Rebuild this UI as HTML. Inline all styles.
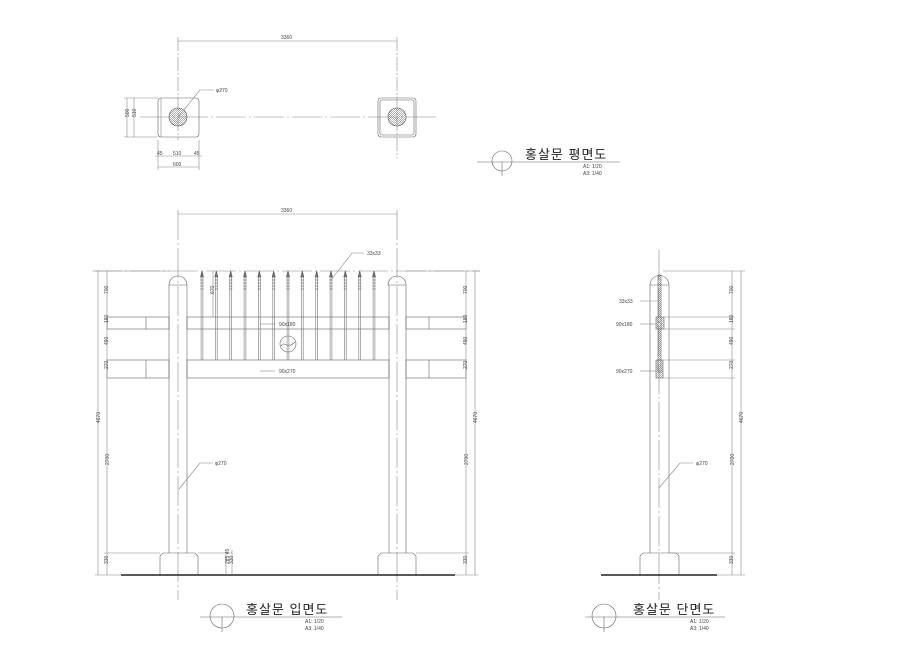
<!DOCTYPE html>
<html><head><meta charset="utf-8"><style>
html,body{margin:0;padding:0;background:#fff;}
svg{display:block}
text{font-family:"Liberation Sans","Noto Sans CJK KR",sans-serif;fill:#444}
.t{font-size:5px}
.k{font-size:13px;fill:#222;letter-spacing:1px}
</style></head><body>
<svg width="920" height="650" viewBox="0 0 920 650" xmlns="http://www.w3.org/2000/svg">
<defs>
<g id="pk">
<line x1="-0.9" y1="276" x2="-0.9" y2="360" stroke="#777" stroke-width="0.6"/>
<line x1="0.9" y1="276" x2="0.9" y2="360" stroke="#777" stroke-width="0.6"/>
<path d="M0,271 L-1.5,277 L1.5,277 Z M-1.6,280 L1.6,280 M-1.6,283 L1.6,283 M-1.6,286 L1.6,286 M-1.6,289 L1.6,289" stroke="#555" stroke-width="0.6" fill="#777"/>
</g>
<pattern id="h" width="2" height="2" patternUnits="userSpaceOnUse"><path d="M0,2 L2,0" stroke="#666" stroke-width="0.5"/></pattern>
</defs>
<g fill="none" stroke="#888" stroke-width="0.6">
<line x1="178" y1="41" x2="397" y2="41"/>
<line x1="178" y1="37" x2="178" y2="140" stroke-dasharray="14,2,2,2"/>
<line x1="397" y1="37" x2="397" y2="158" stroke-dasharray="14,2,2,2"/>
<line x1="140" y1="117" x2="438" y2="117" stroke-dasharray="30,3,2,3"/>
<rect x="158" y="98" width="41" height="39" rx="3" stroke="#666"/>
<line x1="161" y1="98" x2="161" y2="137"/>
<rect x="378" y="98" width="38" height="39" rx="3" stroke="#666"/>
<rect x="380" y="100" width="34" height="35" rx="2" stroke="#666"/>
<circle cx="178" cy="117" r="9" fill="url(#h)" stroke="#555"/>
<circle cx="397" cy="117" r="9" fill="url(#h)" stroke="#555"/>
<polyline points="178,117 200,90 214,90"/>
<line x1="127" y1="98" x2="127" y2="137"/><line x1="134" y1="98" x2="134" y2="137"/>
<line x1="124" y1="98" x2="158" y2="98"/><line x1="124" y1="137" x2="158" y2="137"/>
<line x1="158" y1="140" x2="158" y2="170"/><line x1="199" y1="140" x2="199" y2="170"/>
<line x1="155" y1="156" x2="202" y2="156"/><line x1="158" y1="167" x2="199" y2="167"/>
<circle cx="502" cy="161" r="10" stroke="#666"/>
<line x1="477" y1="162" x2="620" y2="162" stroke="#666"/>
<line x1="502" y1="162" x2="502" y2="176" stroke="#666"/>

<line x1="178" y1="214" x2="397" y2="214"/>
<line x1="178" y1="210" x2="178" y2="600" stroke-dasharray="30,3,2,3"/>
<line x1="397" y1="210" x2="397" y2="600" stroke-dasharray="30,3,2,3"/>
<line x1="92" y1="271" x2="480" y2="271" stroke-dasharray="30,3,2,3"/>
<g stroke="#666">
<path d="M169,285 A9,9 0 1 1 187,285 Z"/>
<path d="M388,285 A9,9 0 1 1 406,285 Z"/>
<line x1="169" y1="285" x2="169" y2="553"/><line x1="187" y1="285" x2="187" y2="553"/>
<line x1="389" y1="285" x2="389" y2="553"/><line x1="406" y1="285" x2="406" y2="553"/>
<rect x="187" y="317" width="202" height="12"/>
<rect x="187" y="360" width="202" height="18"/>
<rect x="107" y="317" width="62" height="12"/><line x1="146" y1="317" x2="146" y2="329"/>
<rect x="107" y="360" width="62" height="18"/><line x1="146" y1="360" x2="146" y2="378"/>
<rect x="406" y="317" width="60" height="12"/><line x1="429" y1="317" x2="429" y2="329"/>
<rect x="406" y="360" width="60" height="18"/><line x1="429" y1="360" x2="429" y2="378"/>
<circle cx="288" cy="344" r="8"/>
<path d="M281,346 C284,340 287,350 295,342"/>
<path d="M160,575 L160,556 L163,553 L195,553 L198,556 L198,575"/>
<path d="M378,575 L378,556 L381,553 L413,553 L416,556 L416,575"/>
</g>
<use href="#pk" x="202"/><use href="#pk" x="216.3"/><use href="#pk" x="230.7"/><use href="#pk" x="245"/>
<use href="#pk" x="259.3"/><use href="#pk" x="273.7"/><use href="#pk" x="288"/><use href="#pk" x="302.3"/>
<use href="#pk" x="316.7"/><use href="#pk" x="331"/><use href="#pk" x="345.3"/><use href="#pk" x="359.7"/><use href="#pk" x="374"/>
<line x1="121" y1="575" x2="455" y2="575" stroke="#222" stroke-width="1.6"/>
<line x1="98" y1="271" x2="98" y2="575"/><line x1="107" y1="271" x2="107" y2="575"/>
<line x1="95" y1="271" x2="169" y2="271"/>
<line x1="104" y1="553" x2="160" y2="553"/>
<line x1="95" y1="575" x2="121" y2="575"/>
<line x1="406" y1="271" x2="480" y2="271"/>
<line x1="466" y1="271" x2="466" y2="575"/><line x1="475" y1="271" x2="475" y2="575"/>
<line x1="416" y1="553" x2="469" y2="553"/><line x1="455" y1="575" x2="478" y2="575"/>
<line x1="213" y1="271" x2="213" y2="317"/>
<line x1="198" y1="553" x2="232" y2="553"/><line x1="226" y1="553" x2="226" y2="575"/><line x1="232" y1="550" x2="232" y2="575"/>
<line x1="260" y1="324" x2="275" y2="324"/><line x1="260" y1="371" x2="275" y2="371"/>
<polyline points="331,280 352,253 364,253"/>
<polyline points="179,489 200,463 213,463"/>
<circle cx="222" cy="616" r="12" stroke="#666"/>
<line x1="200" y1="617" x2="342" y2="617" stroke="#666"/>
<line x1="222" y1="617" x2="222" y2="632" stroke="#666"/>

<line x1="659" y1="250" x2="659" y2="600" stroke-dasharray="30,3,2,3"/>
<g stroke="#666">
<path d="M650,285 A9.5,9.5 0 1 1 669,285 Z"/>
<line x1="650" y1="285" x2="650" y2="553"/><line x1="669" y1="285" x2="669" y2="553"/>
<path d="M640,575 L640,556 L643,553 L676,553 L679,556 L679,575"/>
<rect x="658" y="275" width="3" height="97" fill="url(#h)"/>
<rect x="656" y="317" width="8" height="12" fill="url(#h)"/>
<rect x="656" y="360" width="7" height="18" fill="url(#h)"/>
</g>
<line x1="601" y1="575" x2="717" y2="575" stroke="#222" stroke-width="1.6"/>
<line x1="663" y1="271" x2="745" y2="271"/>
<line x1="664" y1="317" x2="735" y2="317"/><line x1="664" y1="329" x2="735" y2="329"/>
<line x1="663" y1="360" x2="735" y2="360"/><line x1="663" y1="378" x2="735" y2="378"/>
<line x1="669" y1="553" x2="735" y2="553"/><line x1="717" y1="575" x2="745" y2="575"/>
<line x1="732" y1="271" x2="732" y2="575"/><line x1="741" y1="271" x2="741" y2="575"/>
<line x1="640" y1="301" x2="658" y2="301"/><line x1="640" y1="324" x2="656" y2="324"/><line x1="640" y1="371" x2="656" y2="371"/>
<polyline points="659,488 680,463 693,463"/>
<circle cx="604" cy="616" r="12" stroke="#666"/>
<line x1="585" y1="617" x2="725" y2="617" stroke="#666"/>
<line x1="604" y1="617" x2="604" y2="632" stroke="#666"/>
</g>

<text class="t" x="281" y="39">3360</text>
<text class="t" x="216" y="92">φ270</text>
<text class="t" x="125" y="121" transform="rotate(-90 125 117)">500</text>
<text class="t" x="132" y="121" transform="rotate(-90 132 117)">510</text>
<text class="t" x="157" y="155">45</text><text class="t" x="173" y="155">510</text><text class="t" x="194" y="155">45</text>
<text class="t" x="173" y="166">600</text>
<text class="k" x="525" y="159">홍살문 평면도</text>
<text class="t" x="583" y="168">A1: 1/20</text><text class="t" x="583" y="175">A3: 1/40</text>

<text class="t" x="281" y="212">3360</text>
<text class="t" x="367" y="255">33x33</text>
<text class="t" x="279" y="326">90x180</text>
<text class="t" x="279" y="373">90x270</text>
<text class="t" x="215" y="465">φ270</text>
<text class="t" x="105" y="297" transform="rotate(-90 105 294)">700</text>
<text class="t" x="105" y="326" transform="rotate(-90 105 323)">180</text>
<text class="t" x="105" y="348" transform="rotate(-90 105 345)">490</text>
<text class="t" x="105" y="372" transform="rotate(-90 105 369)">270</text>
<text class="t" x="105" y="469" transform="rotate(-90 105 465)">2700</text>
<text class="t" x="105" y="567" transform="rotate(-90 105 564)">330</text>
<text class="t" x="96" y="427" transform="rotate(-90 96 423)">4670</text>
<text class="t" x="464" y="297" transform="rotate(-90 464 294)">700</text>
<text class="t" x="464" y="326" transform="rotate(-90 464 323)">180</text>
<text class="t" x="464" y="348" transform="rotate(-90 464 345)">490</text>
<text class="t" x="464" y="372" transform="rotate(-90 464 369)">270</text>
<text class="t" x="464" y="469" transform="rotate(-90 464 465)">2700</text>
<text class="t" x="464" y="567" transform="rotate(-90 464 564)">330</text>
<text class="t" x="473" y="427" transform="rotate(-90 473 423)">4670</text>
<text class="t" x="211" y="297" transform="rotate(-90 211 294)">670</text>
<text class="t" x="224" y="569" transform="rotate(-90 224 564)">285 45</text>
<text class="t" x="230" y="567" transform="rotate(-90 230 564)">330</text>
<text class="t" x="730" y="297" transform="rotate(-90 730 294)">700</text>
<text class="t" x="730" y="326" transform="rotate(-90 730 323)">180</text>
<text class="t" x="730" y="348" transform="rotate(-90 730 345)">490</text>
<text class="t" x="730" y="372" transform="rotate(-90 730 369)">270</text>
<text class="t" x="730" y="469" transform="rotate(-90 730 465)">2700</text>
<text class="t" x="730" y="567" transform="rotate(-90 730 564)">330</text>
<text class="t" x="739" y="427" transform="rotate(-90 739 423)">4670</text>
<text class="k" x="246" y="614">홍살문 입면도</text>
<text class="t" x="305" y="623">A1: 1/20</text><text class="t" x="305" y="630">A3: 1/40</text>

<text class="t" x="619" y="303">33x33</text>
<text class="t" x="616" y="326">90x180</text>
<text class="t" x="616" y="373">90x270</text>
<text class="t" x="696" y="465">φ270</text>
<text class="k" x="633" y="614">홍살문 단면도</text>
<text class="t" x="690" y="623">A1: 1/20</text><text class="t" x="690" y="630">A3: 1/40</text>
</svg>
</body></html>
